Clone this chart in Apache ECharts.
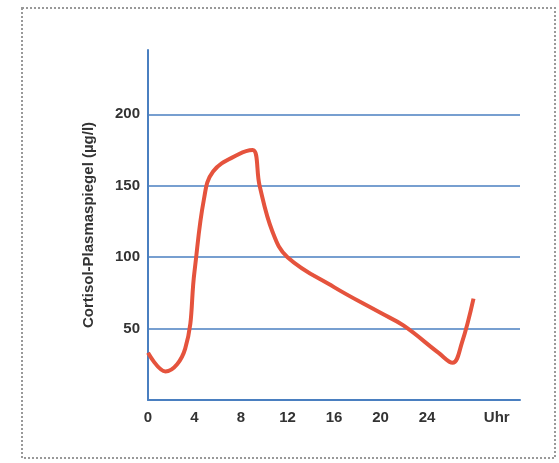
<!DOCTYPE html>
<html><head><meta charset="utf-8">
<script src="https://cdn.jsdelivr.net/npm/echarts@6/dist/echarts.min.js"></script>
<style>html,body{margin:0;padding:0;background:#fff}#c{width:559px;height:463px}</style>
</head><body><div id="c"></div>
<script>
var hours = [0, 1.5, 3.2, 4, 4.8, 5.6, 7.8, 9, 9.6, 10.7, 12, 16, 20, 22, 25, 26.2, 27, 28];
var cortisol = [33, 20, 36, 90, 140, 160, 172, 175, 150, 118, 100, 79, 61, 52, 33, 26, 40, 71];
var xTicks = [0, 4, 8, 12, 16, 20, 24];
var xUnit = 'Uhr';
var yTicks = [50, 100, 150, 200];

var chart = echarts.init(document.getElementById('c'));
var labelStyle = {color: '#333', fontSize: 15, fontWeight: 'bold', fontFamily: 'Liberation Sans Narrow, Liberation Sans, sans-serif'};
chart.setOption({
    animation: false,
    graphic: [{type: 'rect', shape: {x: 22, y: 8, width: 533, height: 450},
        style: {fill: 'none', stroke: '#999', lineWidth: 2, lineDash: [2, 2]}}],
    grid: {left: 148, right: 39, top: 50, bottom: 63},
    xAxis: {
        type: 'value', min: 0, max: 32, interval: 2,
        axisLine: {lineStyle: {color: '#4a7fc0', width: 2}},
        axisTick: {show: false}, splitLine: {show: false},
        axisLabel: Object.assign({}, labelStyle, {margin: 10, formatter: function (v) {
            if (xTicks.indexOf(v) >= 0) return String(v);
            if (v === 30) return xUnit;
            return '';
        }})
    },
    yAxis: {
        type: 'value', min: 0, max: 245, interval: 50,
        name: 'Cortisol-Plasmaspiegel (µg/l)', nameLocation: 'middle', nameGap: 52,
        nameTextStyle: labelStyle,
        axisLine: {show: true, lineStyle: {color: '#4a7fc0', width: 2}},
        axisTick: {show: false},
        splitLine: {showMaxLine: false, lineStyle: {color: '#4a7fc0', width: 1.5}},
        axisLabel: Object.assign({}, labelStyle, {formatter: function (v) {
            return yTicks.indexOf(v) >= 0 ? String(v) : '';
        }})
    },
    series: [{
        type: 'line', smooth: 0.4, symbol: 'none',
        lineStyle: {color: '#e5533d', width: 4},
        data: hours.map(function (h, i) { return [h, cortisol[i]]; })
    }]
});
</script></body></html>
